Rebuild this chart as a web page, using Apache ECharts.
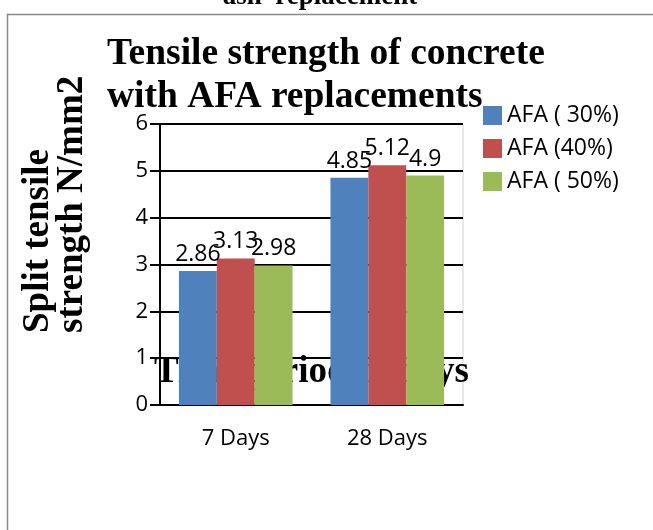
<!DOCTYPE html>
<html>
<head>
<meta charset="utf-8">
<script src="https://cdn.jsdelivr.net/npm/echarts@6/dist/echarts.min.js"></script>
<style>
  html, body { margin: 0; padding: 0; background: #fff; }
  #chart { width: 653px; height: 530px; }
</style>
</head>
<body>
<div id="chart"></div>
<script>
// Split tensile strength of concrete, by curing period and AFA replacement level
const categories = ['7 Days', '28 Days'];
const seriesNames = ['AFA ( 30%)', 'AFA (40%)', 'AFA ( 50%)'];
const afa30 = [2.86, 4.85];
const afa40 = [3.13, 5.12];
const afa50 = [2.98, 4.9];
const yTicks = [0, 1, 2, 3, 4, 5, 6];

const colors = ['#4F81BD', '#C0504D', '#9BBB59'];
const serif = '"Liberation Serif", "Times New Roman", serif';
const sans = '"Open Sans", "Noto Sans", sans-serif';

const chart = echarts.init(document.getElementById('chart'), null, { renderer: 'canvas' });

const values = [afa30, afa40, afa50];

chart.setOption({
  animation: false,
  backgroundColor: '#fff',
  color: colors,
  title: {
    text: 'Tensile strength of concrete\nwith AFA replacements',
    left: 107,
    top: 33,
    padding: 0,
    textStyle: {
      fontFamily: serif,
      fontWeight: 'bold',
      fontSize: 37.5,
      lineHeight: 43,
      color: '#000'
    }
  },
  legend: {
    orient: 'vertical',
    left: 483,
    top: 104,
    padding: 0,
    itemWidth: 19,
    itemHeight: 19,
    itemGap: 10,
    icon: 'rect',
    data: seriesNames,
    textStyle: { fontFamily: sans, fontSize: 23, color: '#000' }
  },
  grid: {
    left: 160,
    right: 190,
    top: 124,
    bottom: 125,
    show: true,
    borderColor: '#d0d0d0',
    borderWidth: 1,
    backgroundColor: 'transparent'
  },
  xAxis: {
    type: 'category',
    data: categories,
    name: 'Time period in days',
    nameLocation: 'middle',
    nameGap: -33,
    nameTextStyle: {
      fontFamily: serif,
      fontWeight: 'bold',
      fontSize: 37,
      color: '#000',
      verticalAlign: 'middle'
    },
    axisLine: { show: true, lineStyle: { color: '#000', width: 2 } },
    axisTick: { show: false },
    axisLabel: { fontFamily: sans, fontSize: 22, color: '#000', margin: 23 },
    splitLine: { show: false }
  },
  yAxis: {
    type: 'value',
    min: yTicks[0],
    max: yTicks[yTicks.length - 1],
    interval: 1,
    axisLine: { show: true, lineStyle: { color: '#000', width: 2 } },
    axisTick: { show: true, inside: false, length: 10, lineStyle: { color: '#000', width: 2 } },
    axisLabel: { fontFamily: sans, fontSize: 22, color: '#000', margin: 12 },
    splitLine: { show: true, lineStyle: { color: '#000', width: 2 } }
  },
  series: seriesNames.map((name, i) => ({
    name: name,
    type: 'bar',
    data: values[i],
    barGap: '0%',
    barCategoryGap: '25%',
    itemStyle: { color: colors[i] },
    label: {
      show: true,
      position: 'top',
      distance: 5,
      fontFamily: sans,
      fontSize: 23,
      color: '#000'
    }
  })),
  graphic: [
    {
      type: 'rect',
      silent: true,
      z: -10,
      shape: { x: 7.5, y: 14.5, width: 700, height: 600 },
      style: { fill: 'none', stroke: '#8a8a8a', lineWidth: 1.5 }
    },
    {
      type: 'text',
      silent: true,
      x: 320,
      y: -3,
      style: {
        text: 'ash  replacement',
        font: 'bold 27px ' + serif,
        fill: '#000',
        align: 'center',
        verticalAlign: 'middle'
      }
    },
    {
      type: 'text',
      silent: true,
      x: 55,
      y: 333,
      rotation: Math.PI / 2,
      style: {
        text: 'Split tensile\nstrength N/mm2',
        font: 'bold 37px ' + serif,
        lineHeight: 34,
        fill: '#000',
        align: 'left',
        verticalAlign: 'middle'
      }
    }
  ]
});
</script>
</body>
</html>
